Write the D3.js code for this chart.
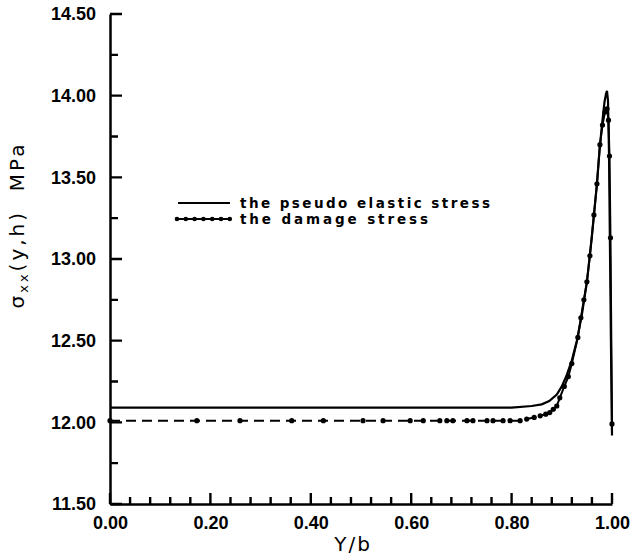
<!DOCTYPE html>
<html>
<head>
<meta charset="utf-8">
<script src="https://cdn.jsdelivr.net/npm/d3@7"></script>
<style>
  html, body { margin: 0; padding: 0; background: #fff; }
  svg { display: block; }
</style>
</head>
<body>
<svg></svg>
<script>
// pseudo elastic stress (solid line)
const elasticX = [0, 0.2, 0.4, 0.6, 0.8, 0.84, 0.86, 0.875, 0.89, 0.90, 0.91, 0.92, 0.93, 0.94, 0.95, 0.96, 0.97, 0.975, 0.98, 0.985, 0.988, 0.990, 0.992, 0.994, 0.996, 0.998, 1.0];
const elasticY = [12.09, 12.09, 12.09, 12.09, 12.09, 12.10, 12.11, 12.13, 12.17, 12.22, 12.29, 12.38, 12.50, 12.66, 12.86, 13.14, 13.46, 13.66, 13.82, 13.96, 14.01, 14.03, 13.97, 13.65, 13.05, 12.45, 11.92];

// damage stress (dashed line with dots)
const damageX = [0, 0.173, 0.259, 0.362, 0.425, 0.504, 0.544, 0.598, 0.624, 0.657, 0.671, 0.683, 0.711, 0.723, 0.751, 0.763, 0.783, 0.797, 0.817, 0.83, 0.845, 0.857, 0.868, 0.876, 0.883, 0.89, 0.896, 0.905, 0.913, 0.92, 0.932, 0.938, 0.944, 0.95, 0.956, 0.964, 0.97, 0.976, 0.981, 0.986, 0.99, 0.993, 0.995, 0.997, 1.0];
const damageY = [12.01, 12.01, 12.01, 12.01, 12.01, 12.01, 12.01, 12.01, 12.01, 12.01, 12.01, 12.01, 12.01, 12.01, 12.01, 12.01, 12.01, 12.01, 12.01, 12.02, 12.03, 12.04, 12.05, 12.06, 12.08, 12.10, 12.15, 12.22, 12.28, 12.36, 12.52, 12.64, 12.75, 12.86, 13.02, 13.27, 13.46, 13.70, 13.82, 13.90, 13.92, 13.85, 13.63, 13.13, 11.99];

const xMajor = [0, 0.2, 0.4, 0.6, 0.8, 1.0];
const yMajor = [11.5, 12.0, 12.5, 13.0, 13.5, 14.0, 14.5];
const legendLabels = ['the pseudo elastic stress', 'the damage stress'];

const width = 630, height = 556;
const svg = d3.select('svg').attr('width', width).attr('height', height);

const x = d3.scaleLinear().domain([0, 1]).range([110, 612]);
const y = d3.scaleLinear().domain([11.5, 14.5]).range([504, 14]);

const tickFont = '"Liberation Sans", Arial, sans-serif';
const titleFont = '"DejaVu Sans", sans-serif';

const xMinor = d3.range(0, 1.0001, 0.04).filter(v => !xMajor.some(m => Math.abs(m - v) < 1e-6));
const yMinor = d3.range(11.75, 14.5, 0.5);

// inward ticks as one path per axis
const x0 = x(0), yb = y(11.5);
const xTickPath = xMajor.map(v => `M${x(v)},${yb}V${yb - 11}`).join('') +
  xMinor.map(v => `M${x(v)},${yb}V${yb - 7}`).join('');
const yTickPath = yMajor.map(v => `M${x0},${y(v)}H${x0 + 12}`).join('') +
  yMinor.map(v => `M${x0},${y(v)}H${x0 + 8}`).join('');

svg.append('path')
  .attr('d', xTickPath + yTickPath)
  .attr('fill', 'none')
  .attr('stroke', '#000')
  .attr('stroke-width', 2.4);

svg.append('g')
  .attr('transform', `translate(0,${yb})`)
  .call(d3.axisBottom(x).tickValues(xMajor).tickSize(0).tickPadding(12).tickFormat(d3.format('.2f')))
  .call(g => g.select('.domain').attr('stroke', '#000').attr('stroke-width', 2.5))
  .call(g => g.selectAll('text')
    .attr('font-family', tickFont).attr('font-weight', 'bold')
    .attr('font-size', 18).attr('fill', '#000'));

svg.append('g')
  .attr('transform', `translate(${x0},0)`)
  .call(d3.axisLeft(y).tickValues(yMajor).tickSize(0).tickPadding(14).tickFormat(d3.format('.2f')))
  .call(g => g.select('.domain').attr('stroke', '#000').attr('stroke-width', 2.5))
  .call(g => g.selectAll('text')
    .attr('font-family', tickFont).attr('font-weight', 'bold')
    .attr('font-size', 18).attr('fill', '#000'));

// curves
const elastic = elasticX.map((v, i) => [v, elasticY[i]]);
const damage = damageX.map((v, i) => [v, damageY[i]]);
const line = d3.line().x(d => x(d[0])).y(d => y(d[1]));

svg.append('path')
  .datum(elastic)
  .attr('d', line)
  .attr('fill', 'none')
  .attr('stroke', '#000')
  .attr('stroke-width', 2.2);

svg.append('path')
  .datum(damage.filter(d => d[0] <= 0.87))
  .attr('d', line)
  .attr('fill', 'none')
  .attr('stroke', '#000')
  .attr('stroke-width', 2)
  .attr('stroke-dasharray', '10,6');

svg.append('path')
  .datum(damage.filter(d => d[0] >= 0.868))
  .attr('d', line)
  .attr('fill', 'none')
  .attr('stroke', '#000')
  .attr('stroke-width', 2);

svg.append('g')
  .selectAll('circle')
  .data(damage)
  .join('circle')
  .attr('cx', d => x(d[0]))
  .attr('cy', d => y(d[1]))
  .attr('r', 2.6)
  .attr('fill', '#000');

// legend
const legend = svg.append('g').attr('transform', 'translate(176,203)');
legend.append('line')
  .attr('x1', 2).attr('x2', 54).attr('y1', 0).attr('y2', 0)
  .attr('stroke', '#000').attr('stroke-width', 2);
legend.append('line')
  .attr('x1', 0).attr('x2', 54).attr('y1', 16).attr('y2', 16)
  .attr('stroke', '#000').attr('stroke-width', 2);
legend.selectAll('circle')
  .data(d3.range(7))
  .join('circle')
  .attr('cx', i => 1 + i * 8.8)
  .attr('cy', 16)
  .attr('r', 2.3)
  .attr('fill', '#000');
legend.selectAll('text')
  .data(legendLabels)
  .join('text')
  .attr('x', 64)
  .attr('y', (d, i) => 5 + i * 16)
  .attr('font-family', titleFont)
  .attr('font-weight', 'bold')
  .attr('font-size', 13.5)
  .attr('textLength', (d, i) => i === 0 ? 250 : 188)
  .attr('lengthAdjust', 'spacing')
  .attr('fill', '#000')
  .text(d => d);

// axis titles
const yTitle = svg.append('text')
  .attr('transform', 'translate(24,225) rotate(-90)')
  .attr('text-anchor', 'middle')
  .attr('font-family', titleFont)
  .attr('font-size', 20)
  .attr('letter-spacing', 3)
  .style('white-space', 'pre')
  .attr('fill', '#000');
yTitle.append('tspan').text('σ');
yTitle.append('tspan').attr('font-size', 13).attr('dy', 4).text('xx');
yTitle.append('tspan').attr('dy', -4).text('(y,h)  MPa');

svg.append('text')
  .attr('x', 353)
  .attr('y', 551)
  .attr('text-anchor', 'middle')
  .attr('font-family', titleFont)
  .attr('font-size', 20)
  .attr('letter-spacing', 2)
  .attr('fill', '#000')
  .text('Y/b');
</script>
</body>
</html>
